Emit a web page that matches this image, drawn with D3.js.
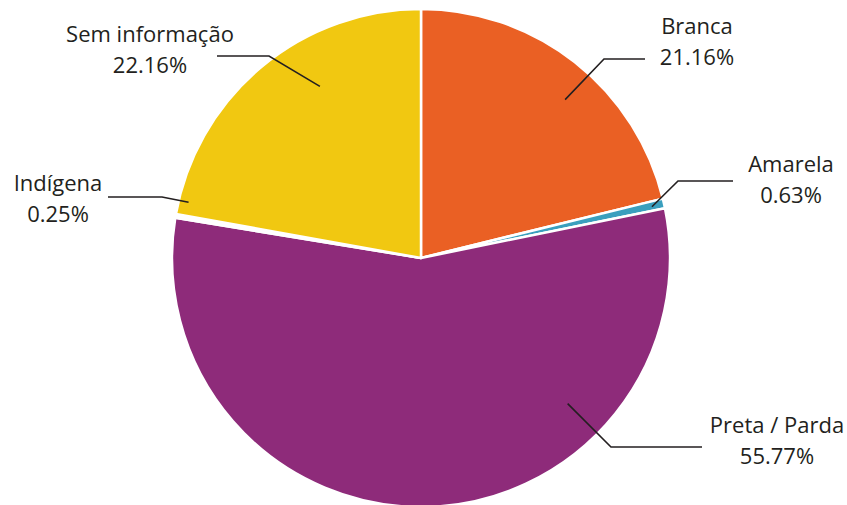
<!DOCTYPE html>
<html>
<head>
<meta charset="utf-8">
<script src="https://cdn.jsdelivr.net/npm/d3@7"></script>
<style>
  body { margin: 0; background: #fff; }
  svg { display: block; }
</style>
</head>
<body>
<svg id="drawing_region"></svg>
<script>
// data
const categories = ['Branca', 'Amarela', 'Preta / Parda', 'Indígena', 'Sem informação'];
const values = [21.16, 0.63, 55.77, 0.25, 22.16];
const colors = ['#ea6024', '#3a9fbe', '#8e2b7a', '#ffffff', '#f1c811'];

// label layout: inner point (angle in deg, radius fraction), elbow, line end, text centre
const labelLayout = [
    { a: 42.3, k: 0.86, elbow: [604, 59], end: 645, tx: 697, ty: 34 },
    { a: 77.5, k: 0.95, elbow: [678, 181], end: 733, tx: 791, ty: 172 },
    { a: 134.8, k: 0.83, elbow: [611, 447], end: 702, tx: 777, ty: 433 },
    { a: 283.5, k: 0.96, elbow: [162, 197], end: 108, tx: 58, ty: 191 },
    { a: 329.5, k: 0.80, elbow: [269, 56], end: 217, tx: 150, ty: 42 },
];

const config = {
    parent: '#drawing_region',
    width: 847,
    height: 505,
    cx: 421,
    cy: 258,
    radius: 249,
};

const data = categories.map((c, i) => ({ label: c, value: values[i], color: colors[i], pos: labelLayout[i] }));

const svg = d3.select(config.parent)
    .attr('width', config.width)
    .attr('height', config.height);

const chart = svg.append('g')
    .attr('transform', `translate(${config.cx}, ${config.cy})`);

const pie = d3.pie()
    .sort(null)
    .value(d => d.value);

const arc = d3.arc()
    .innerRadius(0)
    .outerRadius(config.radius);

// slices
chart.selectAll('path.slice')
    .data(pie(data))
    .enter()
    .append('path')
    .attr('class', 'slice')
    .attr('d', arc)
    .attr('fill', d => d.data.color)
    .attr('stroke', '#fff')
    .attr('stroke-width', 2.5)
    .attr('stroke-linejoin', 'round');

// leader lines
const polar = (deg, r) => {
    const t = deg * Math.PI / 180;
    return [config.cx + r * Math.sin(t), config.cy - r * Math.cos(t)];
};

svg.selectAll('polyline.leader')
    .data(data)
    .enter()
    .append('polyline')
    .attr('class', 'leader')
    .attr('points', d => {
        const p = polar(d.pos.a, d.pos.k * config.radius);
        return [p, d.pos.elbow, [d.pos.end, d.pos.elbow[1]]].map(q => q.join(',')).join(' ');
    })
    .attr('fill', 'none')
    .attr('stroke', '#231f20')
    .attr('stroke-width', 1.6);

// labels
const labels = svg.selectAll('text.label')
    .data(data)
    .enter()
    .append('text')
    .attr('class', 'label')
    .attr('x', d => d.pos.tx)
    .attr('y', d => d.pos.ty)
    .attr('text-anchor', 'middle')
    .attr('font-family', '"Open Sans", sans-serif')
    .attr('font-size', '22px')
    .attr('fill', '#231f20');

labels.append('tspan')
    .attr('x', d => d.pos.tx)
    .text(d => d.label);

labels.append('tspan')
    .attr('x', d => d.pos.tx)
    .attr('dy', 31)
    .text(d => d3.format('.2f')(d.value) + '%');
</script>
</body>
</html>
